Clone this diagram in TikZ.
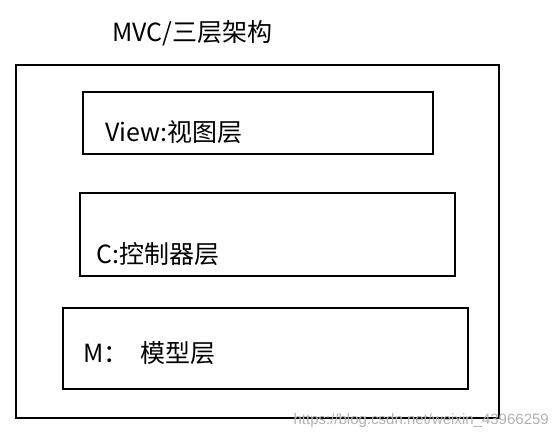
\documentclass[tikz,border=0pt]{standalone}
\usepackage{fontspec}
\setmainfont{Noto Sans CJK SC}
\newfontfamily\urlfont{Liberation Sans}
\usepackage{tikz}

\begin{document}
\begin{tikzpicture}[x=1pt,y=-1pt]
\tikzstyle{layer}=[draw, black, line width=1.8pt, inner sep=0pt]
\tikzstyle{label}=[anchor=west, inner sep=0pt, font=\fontsize{25}{29}\selectfont]
\useasboundingbox (0,0) rectangle (559,439);
% outer frame and title
\node[layer, minimum width=483pt, minimum height=353pt] (frame) at (257.5,241.5) {};
\node[label] (title) at (112,33) {MVC/三层架构};
% the three layers
\node[layer, minimum width=350pt, minimum height=62pt] (viewbox) at (258,123) {};
\node[label] (viewtext) at (105,132) {View:视图层};
\node[layer, minimum width=375pt, minimum height=83pt] (ctrlbox) at (267.5,234.5) {};
\node[label] (ctrltext) at (96,254) {C:控制器层};
\node[layer, minimum width=405pt, minimum height=81pt] (modelbox) at (265.5,348.5) {};
\node[label] (modeltext) at (83,353) {M：\hspace{12pt}模型层};
% watermark
\node[anchor=east, inner sep=0pt, text=black!30, font=\urlfont\fontsize{15}{17}\selectfont] (mark) at (549,421) {https://blog.csdn.net/weixin\_43966259};
\end{tikzpicture}
\end{document}
